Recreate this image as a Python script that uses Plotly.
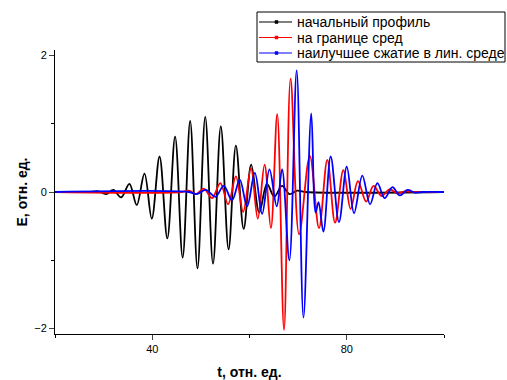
import plotly.graph_objects as go

# Extrema (t, E)
t_black = [20, 27.0, 28.9, 30.5, 32.0, 33.6, 35.3, 36.8, 38.4, 39.9, 41.5, 43.1, 44.7, 46.25, 47.8,
           49.3, 50.9, 52.5, 54.1, 55.7, 57.2, 58.8, 60.35, 62.0, 63.6, 65.1, 66.7, 68.2, 69.8, 71.5, 100]
E_black = [0, 0, 0.01, -0.03, 0.03, -0.08, 0.12, -0.19, 0.27, -0.39, 0.52, -0.68, 0.81, -0.96, 1.04,
           -1.12, 1.10, -1.05, 0.96, -0.84, 0.68, -0.54, 0.40, -0.30, 0.12, -0.07, 0.09, -0.03, 0.02, 0, 0]

t_red = [20, 46.0, 47.5, 49.0, 50.6, 52.3, 54.0, 55.6, 57.2, 58.7, 60.3, 61.7, 63.1, 64.4, 65.7,
         67.1, 68.45, 70.2, 72.4, 74.3, 76.0, 77.6, 79.3, 80.8, 82.3, 84.0, 85.5, 87.2, 88.8, 90.4, 92.0, 94.0, 100]
E_red = [0, 0, 0.02, -0.03, 0.05, -0.09, 0.13, -0.18, 0.23, -0.29, 0.35, -0.39, 0.40, -0.53, 1.14,
         -2.02, 1.66, -0.62, 0.53, -0.53, 0.47, -0.45, 0.32, -0.25, 0.16, -0.14, 0.09, -0.06, 0.04, -0.02, 0.01, 0, 0]

t_blue = [20, 47.5, 49.2, 51.0, 53.0, 54.7, 56.4, 58.0, 59.5, 61.1, 62.6, 64.1, 65.6, 66.7, 68.2,
          69.7, 71.1, 72.7, 73.6, 74.2, 75.2, 76.7, 78.4, 80.0, 81.5, 83.2, 84.8, 86.3, 87.8, 89.4,
          90.9, 92.5, 94.0, 95.5, 100]
E_blue = [0, 0, -0.03, 0.03, -0.07, 0.09, -0.12, 0.18, -0.21, 0.28, -0.32, 0.33, -0.21, 0.33, -1.00,
          1.78, -1.84, 1.15, -0.30, -0.15, -0.58, 0.52, -0.44, 0.37, -0.31, 0.24, -0.18, 0.13, -0.09, 0.07,
          -0.05, 0.03, -0.01, 0, 0]

names = ["начальный профиль", "на границе сред", "наилучшее сжатие в лин. среде"]
colors = ["#000000", "#ff0000", "#0000ff"]

fig = go.Figure()
for t, E, n, c in [(t_black, E_black, names[0], colors[0]),
                   (t_red, E_red, names[1], colors[1]),
                   (t_blue, E_blue, names[2], colors[2])]:
    fig.add_trace(go.Scatter(x=t, y=E, name=n, mode="lines", showlegend=False,
                             line=dict(color=c, width=1.8, shape="spline", smoothing=1.0)))

# plot area in pixels: left 55, right 444, top 50, bottom 334
L, R, T, B = 55, 444, 50, 334
def px(x):
    return (x - L) / (R - L)
def py(y):
    return (B - y) / (B - T)

# legend box (drawn in paper coordinates)
shapes = [dict(type="rect", xref="paper", yref="paper",
               x0=px(257), x1=px(505), y0=py(62), y1=py(12),
               line=dict(color="black", width=1), fillcolor="white", layer="above")]
annotations = []
rows = [22, 37.5, 53]
for n, c, r in zip(names, colors, rows):
    shapes.append(dict(type="line", xref="paper", yref="paper",
                       x0=px(259), x1=px(292), y0=py(r), y1=py(r),
                       line=dict(color=c, width=1.2), layer="above"))
    shapes.append(dict(type="rect", xref="paper", yref="paper",
                       x0=px(275), x1=px(278), y0=py(r + 1.5), y1=py(r - 1.5),
                       line=dict(color=c, width=0.5), fillcolor=c, layer="above"))
    annotations.append(dict(text=n, xref="paper", yref="paper", x=px(295), y=py(r),
                            xanchor="left", yanchor="middle", showarrow=False,
                            font=dict(size=14, color="black")))

font_family = "Arial, Liberation Sans, sans-serif"
fig.update_layout(
    width=507, height=380,
    margin=dict(l=L, r=507 - R, t=T, b=380 - B, autoexpand=False),
    paper_bgcolor="white", plot_bgcolor="white",
    font=dict(family=font_family, size=11, color="black"),
    showlegend=False,
    shapes=shapes, annotations=annotations,
    xaxis=dict(range=[20, 100], tick0=0, dtick=40, ticks="outside", ticklen=5,
               showline=True, linecolor="black", linewidth=1, showgrid=False, zeroline=False,
               minor=dict(dtick=20, ticks="outside", ticklen=3, tickcolor="black"),
               title=dict(text="<b>t, отн. ед.</b>", font=dict(size=14), standoff=14),
               tickfont=dict(size=11)),
    yaxis=dict(range=[-2.08, 2.08], tick0=0, dtick=2, ticks="outside", ticklen=5,
               showline=True, linecolor="black", linewidth=1, showgrid=False, zeroline=False,
               minor=dict(dtick=1, ticks="outside", ticklen=3, tickcolor="black"),
               title=dict(text="<b>E, отн. ед.</b>", font=dict(size=14), standoff=3),
               tickfont=dict(size=11)),
)
fig.write_html("out.html")
